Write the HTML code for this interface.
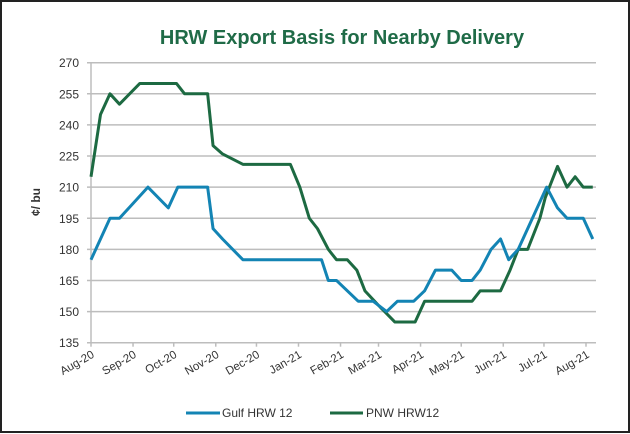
<!DOCTYPE html>
<html><head><meta charset="utf-8"><style>
html,body{margin:0;padding:0;background:#fff;}
svg{display:block;font-family:"Liberation Sans",sans-serif;}
</style></head><body>
<svg id="chart" width="630" height="434" viewBox="0 0 630 434">
<rect x="1" y="1" width="628" height="431" fill="#fff" stroke="#222" stroke-width="2"/>
<text x="342" y="44" text-anchor="middle" font-size="20" font-weight="bold" fill="#1f6b47">HRW Export Basis for Nearby Delivery</text>
<g id="grid"></g><g id="axes"></g><g id="series"></g>
<text transform="translate(40,202) rotate(-90)" text-anchor="middle" font-size="12" font-weight="bold" fill="#333">¢/ bu</text>
<g>
<line x1="186" y1="413" x2="220" y2="413" stroke="#1384b4" stroke-width="3"/>
<text x="222" y="417" font-size="12" fill="#333">Gulf HRW 12</text>
<line x1="330" y1="413" x2="363" y2="413" stroke="#1d6a42" stroke-width="3"/>
<text x="366" y="417" font-size="12" fill="#333">PNW HRW12</text>
</g>
</svg>
<script>
const yTicks=[135,150,165,180,195,210,225,240,255,270];
const monthLabels=["Aug-20","Sep-20","Oct-20","Nov-20","Dec-20","Jan-21","Feb-21","Mar-21","Apr-21","May-21","Jun-21","Jul-21","Aug-21"];
const monthDays=[0,31,61,92,122,153,184,212,243,273,304,334,365];
const gulfDays=[0,7,14,21,42,57,64,86,90,97,112,170,175,181,197,208,218,226,238,246,254,266,273,281,287,295,302,308,315,322,336,344,351,363,370];
const gulfVals=[175,185,195,195,210,200,210,210,190,185,175,175,165,165,155,155,150,155,155,160,170,170,165,165,170,180,185,175,180,190,210,200,195,195,185];
const pnwDays=[0,7,14,21,36,63,69,86,90,97,112,147,154,161,167,175,181,189,196,202,212,224,239,246,281,287,302,309,315,322,331,335,344,351,357,363,370];
const pnwVals=[215,245,255,250,260,260,255,255,230,226,221,221,210,195,190,180,175,175,170,160,153,145,145,155,155,160,160,170,180,180,195,205,220,210,215,210,210];
const NS="http://www.w3.org/2000/svg";
const X0=91,X1=586,Y0=342.7,Y1=62.7;
const xs=d=>X0+d*(X1-X0)/365;
const ys=v=>Y0-(v-135)*(Y0-Y1)/135;
function mk(tag,attrs,parent){const e=document.createElementNS(NS,tag);for(const k in attrs)e.setAttribute(k,attrs[k]);document.getElementById(parent).appendChild(e);return e;}
yTicks.forEach(t=>{
 const l=mk('line',{x1:X0-4,x2:596,y1:ys(t),y2:ys(t),stroke:'#bdbdbd','stroke-width':1.5},'grid');
 
 
 const tx=mk('text',{x:79,y:ys(t)+4.5,'text-anchor':'end','font-size':12,fill:'#333'},'axes');
 tx.textContent=t;
 
 
});
const ax=mk('line',{x1:X0,x2:X0,y1:Y1,y2:Y0,stroke:'#bdbdbd','stroke-width':1.5},'axes');


monthLabels.forEach((m,i)=>{
 const x=xs(monthDays[i]);
 const tk=mk('line',{x1:x,x2:x,y1:Y0,y2:Y0+4,stroke:'#bdbdbd','stroke-width':1.5},'axes');
 
 
 const tx=mk('text',{x:x+4,y:Y0+14,'text-anchor':'end','font-size':11.5,fill:'#333',transform:`rotate(-30 ${x+4} ${Y0+14})`},'axes');
 tx.textContent=m;
 
 
});
function series(days,vals,color,name){
 const p=mk('polyline',{points:days.map((d,i)=>xs(d)+','+ys(vals[i])).join(' '),fill:'none',stroke:color,'stroke-width':3,'stroke-linejoin':'round'},'series');
 
 
}
series(pnwDays,pnwVals,'#1d6a42','pnw-hrw12-line');
series(gulfDays,gulfVals,'#1384b4','gulf-hrw12-line');
</script>
</body></html>
